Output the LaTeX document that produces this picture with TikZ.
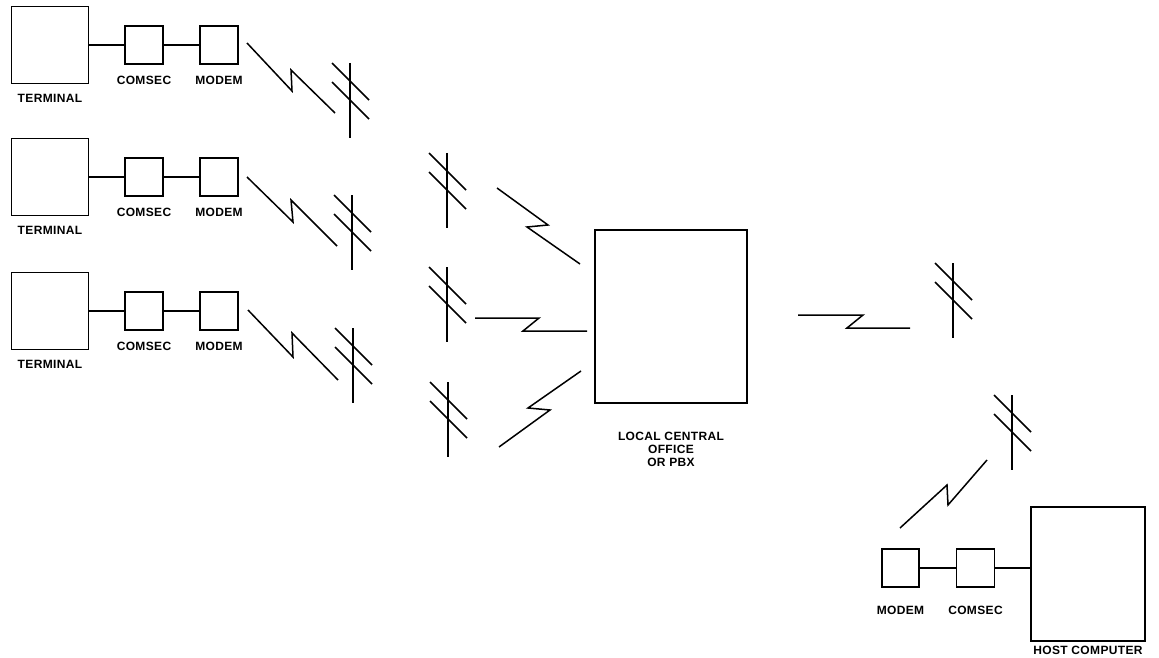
\documentclass[tikz,border=0pt]{standalone}
\usepackage{fontspec}
\newfontfamily\plotfont[LetterSpace=3]{Liberation Sans}
\usetikzlibrary{positioning}

\begin{document}
\begin{tikzpicture}[x=1pt,y=-1pt,
            box/.style={draw,line width=1.1pt,inner sep=0pt},
            bigbox/.style={box,minimum width=77pt,minimum height=77pt},
            smallbox/.style={box,minimum width=38pt,minimum height=38pt},
            lbl/.style={font=\plotfont\bfseries\fontsize{12}{13}\selectfont,inner sep=0pt},
            wire/.style={line width=1.1pt},
            bolt/.style={line width=1.5pt,line join=miter}]
            \useasboundingbox (0,0) rectangle (1159,658);
            \foreach \r/\y in {1/45,2/177,3/311} {
                \node[bigbox] (term\r) at (50,\y) {};
                \node[smallbox] (comsec\r) at (144,\y) {};
                \node[smallbox] (modem\r) at (219,\y) {};
                \node[lbl,below=10pt of term\r] (term\r-l) {TERMINAL};
                \node[lbl,below=11pt of comsec\r] (comsec\r-l) {COMSEC};
                \node[lbl,below=11pt of modem\r] (modem\r-l) {MODEM};
                \draw[wire] (term\r) -- (comsec\r) -- (modem\r);
            }
            \node[box,minimum width=152pt,minimum height=173pt] (pbx) at (671,316.5) {};
            \node[lbl,align=center,below=28pt of pbx] (pbx-l) {LOCAL CENTRAL\\OFFICE\\OR PBX};
            \node[box,minimum width=114pt,minimum height=134pt] (host) at (1088,574) {};
            \node[smallbox,minimum width=37pt] (modem4) at (900.5,568) {};
            \node[smallbox] (comsec4) at (975.5,568) {};
            \node[lbl,below=18pt of modem4] (modem4-l) {MODEM};
            \node[lbl,below=18pt of comsec4] (comsec4-l) {COMSEC};
            \node[lbl,below=4pt of host] (host-l) {HOST COMPUTER};
            \draw[wire] (modem4) -- (comsec4);
            \draw[wire] (comsec4) -- (comsec4 -| host.west);
            \foreach \x/\y in {350/63,352/195,353/328,447/153,447/267,448/382,953/263,1012/395} {
                \draw[bolt] (\x,\y) -- ++(0,75);
                \draw[bolt] (\x-18,\y) -- ++(37,37);
                \draw[bolt] (\x-18,\y+19) -- ++(37,37);
            }
            \draw[bolt] (247,43) -- (292,91) -- (291,70) -- (335,113);
            \draw[bolt] (247,177) -- (293,222) -- (291,200) -- (337,246);
            \draw[bolt] (248,310) -- (293,357) -- (292,333) -- (338,380);
            \draw[bolt] (497,188) -- (548,225) -- (527,227) -- (580,264);
            \draw[bolt] (475,318) -- (539,318) -- (523,331) -- (587,331);
            \draw[bolt] (499,447) -- (550,410) -- (528,408) -- (581,371);
            \draw[bolt] (798,315) -- (863,315) -- (847,328) -- (910,328);
            \draw[bolt] (900,528) -- (947,485) -- (948,505) -- (987,460);
        \end{tikzpicture}
\end{document}
